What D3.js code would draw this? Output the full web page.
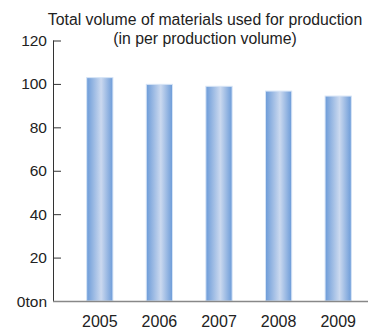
<!DOCTYPE html>
<html>
<head>
<meta charset="utf-8">
<script src="https://cdn.jsdelivr.net/npm/d3@7"></script>
<style>
  body { margin: 0; background: #fff; }
  text { font-family: "Liberation Sans", Arial, sans-serif; fill: #222; }
</style>
</head>
<body>
<div id="chart"></div>
<script>
var years = ["2005", "2006", "2007", "2008", "2009"];
var values = [102.9, 99.8, 98.9, 96.7, 94.4];
var yTicks = [0, 20, 40, 60, 80, 100, 120];
var titleLines = ["Total volume of materials used for production", "(in per production volume)"];

var width = 368, height = 331;

var svg = d3.select("#chart").append("svg")
	.attr("width", width)
	.attr("height", height);

var x = d3.scaleBand()
	.domain(years)
	.range([70, 368])
	.paddingInner(0.56)
	.paddingOuter(0.28);

var y = d3.scaleLinear()
	.domain([0, 120])
	.range([301, 40.5]);

// gradient for the bars
var grad = svg.append("defs").append("linearGradient")
	.attr("id", "barGrad")
	.attr("x1", "0%").attr("x2", "100%")
	.attr("y1", "0%").attr("y2", "0%");
grad.append("stop").attr("offset", "0%").attr("stop-color", "#6c9bd8");
grad.append("stop").attr("offset", "55%").attr("stop-color", "#cbd9ef");
grad.append("stop").attr("offset", "100%").attr("stop-color", "#6c9bd8");

svg.selectAll("rect.bar")
	.data(values)
	.enter().append("rect")
		.attr("class", "bar")
		.attr("x", function (d, i) { return x(years[i]); })
		.attr("y", function (d) { return y(d); })
		.attr("width", x.bandwidth())
		.attr("height", function (d) { return y(0) - y(d); })
		.style("fill", "url(#barGrad)")
		.style("stroke", "#d6e4f6")
		.style("stroke-width", 1);

// y axis
var yAxis = d3.axisRight(y)
	.tickValues(yTicks)
	.tickSize(8)
	.tickFormat("");
var gy = svg.append("g")
	.attr("transform", "translate(53,0)")
	.call(yAxis);
gy.select(".domain").attr("stroke", "#333").attr("d", "M0.5," + y(120) + "V" + y(0));
gy.selectAll(".tick line").attr("stroke", "#333");

svg.selectAll("text.ylab")
	.data(yTicks)
	.enter().append("text")
		.attr("class", "ylab")
		.attr("x", 47)
		.attr("y", function (d) { return y(d) + 5.5; })
		.attr("text-anchor", "end")
		.style("font-size", "15.5px")
		.text(function (d) { return d === 0 ? "0ton" : d; });

// x axis baseline
svg.append("line")
	.attr("x1", 53).attr("x2", width)
	.attr("y1", y(0) + 0.5).attr("y2", y(0) + 0.5)
	.attr("stroke", "#888")
	.attr("stroke-width", 1.5);

svg.selectAll("text.xlab")
	.data(years)
	.enter().append("text")
		.attr("class", "xlab")
		.attr("x", function (d) { return x(d) + x.bandwidth() / 2; })
		.attr("y", 327)
		.attr("text-anchor", "middle")
		.style("font-size", "16px")
		.text(function (d) { return d; });

svg.selectAll("text.title")
	.data(titleLines)
	.enter().append("text")
		.attr("class", "title")
		.attr("x", 205)
		.attr("y", function (d, i) { return 25 + i * 19; })
		.attr("text-anchor", "middle")
		.style("font-size", "15.8px")
		.text(function (d) { return d; });
</script>
</body>
</html>
